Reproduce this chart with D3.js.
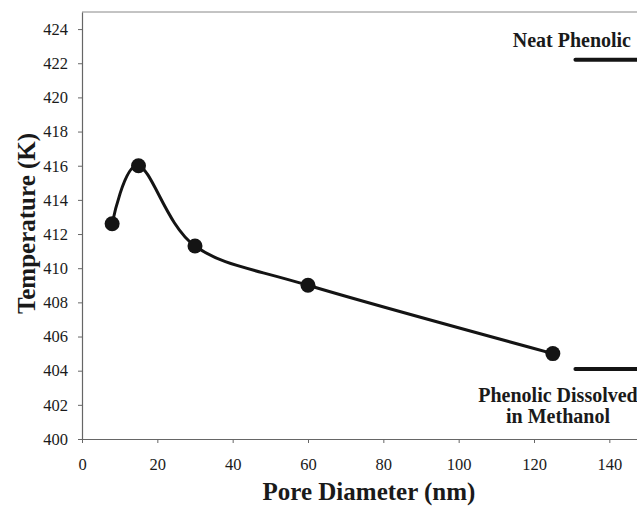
<!DOCTYPE html>
<html><head><meta charset="utf-8">
<script src="https://cdn.jsdelivr.net/npm/d3@7/dist/d3.min.js"></script>
<style>
html,body{margin:0;padding:0;background:#fff;overflow:hidden;}
svg{display:block;}
svg text{font-family:"Liberation Serif","Times New Roman",Times,serif !important;}
</style></head>
<body>
<svg id="chart" width="637" height="506"></svg>
<script>
const poreDiameter = [8, 15, 30, 60, 125];
const temperature = [412.6, 416.0, 411.3, 409.0, 405.0];
const refLabels = ["Neat Phenolic", "Phenolic Dissolved in Methanol"];
const refValues = [422.2, 404.1];
const refRange = [131, 150];
const xTicks = [0, 20, 40, 60, 80, 100, 120, 140];
const yTicks = [400, 402, 404, 406, 408, 410, 412, 414, 416, 418, 420, 422, 424];
const xTitle = "Pore Diameter (nm)";
const yTitle = "Temperature (K)";

const svg = d3.select("#chart");
const x = d3.scaleLinear().domain([0, 150]).range([82, 647]);
const y = d3.scaleLinear().domain([400, 425]).range([439, 12]);

svg.append("line").attr("x1", x(0)).attr("x2", x(150)).attr("y1", y(425)).attr("y2", y(425))
  .attr("stroke", "#888").attr("stroke-width", 1);

const xAxis = svg.append("g").attr("transform", `translate(0,${y(400)})`)
  .call(d3.axisBottom(x).tickValues(xTicks).tickSize(4).tickPadding(15).tickSizeOuter(0));
const yAxis = svg.append("g").attr("transform", `translate(${x(0)},0)`)
  .call(d3.axisLeft(y).tickValues(yTicks).tickSize(4).tickPadding(10).tickSizeOuter(0));
[xAxis, yAxis].forEach(g => {
  g.attr("font-size", 16.5);
  g.select(".domain").attr("stroke", "#666").attr("stroke-width", 1.2);
  g.selectAll(".tick line").attr("stroke", "#666");
  g.selectAll(".tick text").attr("fill", "#1a1a1a");
});

const pts = poreDiameter.map((d, i) => [d, temperature[i]]);
svg.append("path").datum(pts)
  .attr("fill", "none").attr("stroke", "#141414").attr("stroke-width", 3)
  .attr("d", d3.line().x(d => x(d[0])).y(d => y(d[1])).curve(d3.curveCardinal.tension(0)));
svg.selectAll("circle.pt").data(pts).join("circle").attr("class", "pt")
  .attr("cx", d => x(d[0])).attr("cy", d => y(d[1])).attr("r", 7.5).attr("fill", "#141414");

svg.selectAll("line.ref").data(refValues).join("line").attr("class", "ref")
  .attr("x1", x(refRange[0])).attr("x2", x(refRange[1]))
  .attr("y1", d => y(d)).attr("y2", d => y(d))
  .attr("stroke", "#141414").attr("stroke-width", 4).attr("stroke-linecap", "round");

svg.append("text").attr("x", 512.7).attr("y", 46.7)
  .attr("font-weight", "bold").attr("font-size", 20).attr("fill", "#1a1a1a")
  .text(refLabels[0]);
const t2 = svg.append("text").attr("text-anchor", "middle")
  .attr("font-weight", "bold").attr("font-size", 20).attr("fill", "#1a1a1a");
t2.append("tspan").attr("x", 558).attr("y", 401.7).text("Phenolic Dissolved");
t2.append("tspan").attr("x", 558).attr("y", 422.7).text("in Methanol");

svg.append("text").attr("x", 369).attr("y", 500).attr("text-anchor", "middle")
  .attr("font-weight", "bold").attr("font-size", 25).attr("fill", "#1a1a1a")
  .text(xTitle);
svg.append("text").attr("transform", "translate(35,223.5) rotate(-90)").attr("text-anchor", "middle")
  .attr("font-weight", "bold").attr("font-size", 25).attr("fill", "#1a1a1a")
  .text(yTitle);
</script>
</body></html>
